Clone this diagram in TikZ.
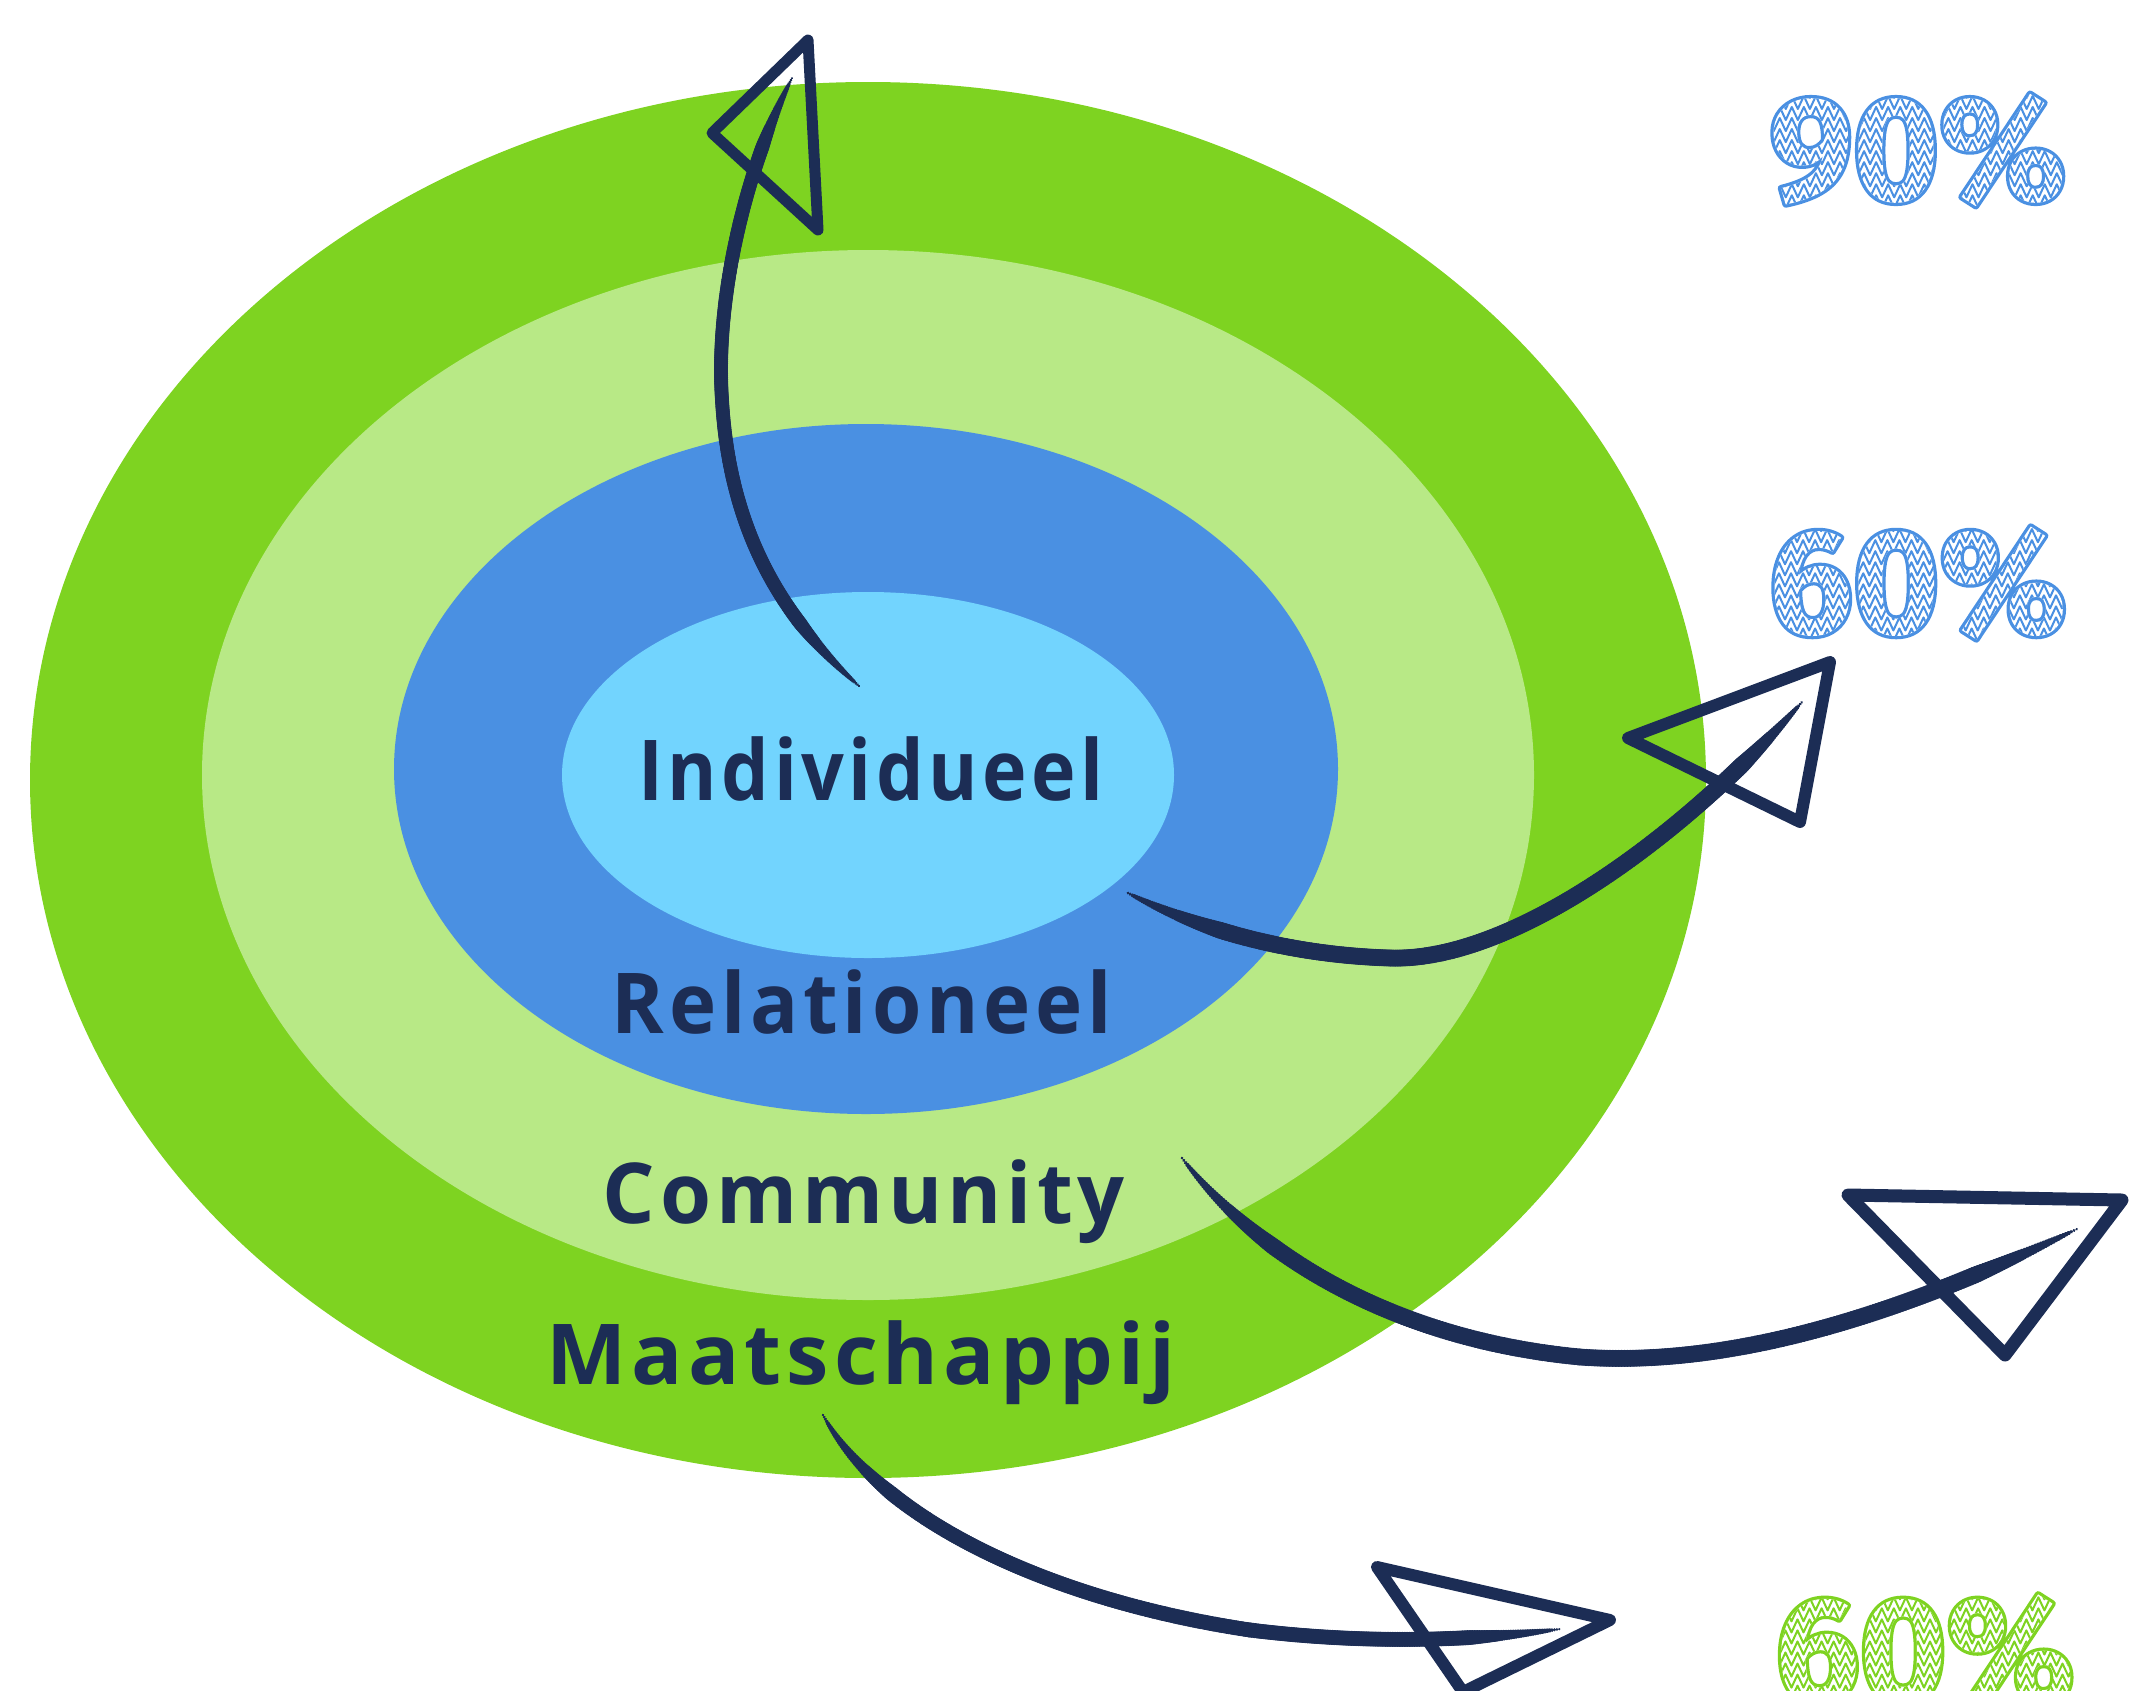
\documentclass[tikz,border=0pt]{standalone}
\usepackage{fontspec}
\usepackage{graphicx}
\usetikzlibrary{decorations.markings,calc}
\setmainfont{Open Sans}
\newfontfamily\lblfont[LetterSpace=6.0]{Open Sans}
\newfontfamily\pctfont{Fira Sans}
\definecolor{gOuter}{HTML}{7ED321}
\definecolor{gLight}{HTML}{B8E986}
\definecolor{bMid}{HTML}{4A90E2}
\definecolor{bLight}{HTML}{72D4FE}
\definecolor{navy}{HTML}{1C2D55}
\newcommand\lbltext[2]{\resizebox{#1}{\height}{\fontsize{84}{100}\selectfont\lblfont\bfseries #2}}
% zigzag scribble path (PDF operators, bp, relative to the text's left baseline)
\newcommand\mkhatch{%
  \gdef\hatchpath{}%
  \foreach \r in {0,...,11}{%
    \foreach \k in {0,...,54}{%
      \edef\hx{\the\numexpr -8+6*\k\relax}%
      \ifodd\k\relax \edef\hy{\the\numexpr -8+11*\r+13\relax}\else\edef\hy{\the\numexpr -8+11*\r\relax}\fi
      \ifnum\k=0 \xdef\hatchpath{\hatchpath\space\hx\space\hy\space m}\else\xdef\hatchpath{\hatchpath\space\hx\space\hy\space l}\fi
    }}}
\mkhatch
% sketched percentage: outline stroke + clip to glyphs, white inside, scribble hatch
\newcommand\sketchpct[3]{% #1 font size, #2 text, #3 RGB for the hatch
  \special{pdf:literal direct q 5 Tr 6.5 w 1 j}%
  \rlap{\fontsize{#1}{#1}\selectfont\pctfont\bfseries #2}%
  \special{pdf:literal q 1 g -20 -30 380 190 re f 2 w 1 j 1 J #3 RG\hatchpath\space S Q}%
  \special{pdf:literal direct Q}%
  \phantom{\fontsize{#1}{#1}\selectfont\pctfont\bfseries #2}}
\tikzset{
  lbl/.style={inner sep=0pt, anchor=base, text=navy},
  pct/.style={inner sep=0pt, anchor=center},
  tri/.style={draw=navy, line width=#1, line join=round, line cap=round},
  brush/.style={decorate, decoration={markings, mark=between positions 0 and 1 step 0.003 with {%
     \pgfmathsetmacro\tpos{\pgfkeysvalueof{/pgf/decoration/mark info/distance from start}/\pgfdecoratedpathlength}%
     \pgfmathsetmacro\rad{#1*min(1,(\tpos+0.01)/0.14)^0.8*min(1,(1.005-\tpos)/0.12)^0.8+0.5}%
     \fill[navy] (0,0) circle[radius=\rad pt];}}},
}
\begin{document}
\begin{tikzpicture}[x=1pt,y=-1pt]
\useasboundingbox (0,0) rectangle (2131,1690);
% rings
\fill[gOuter] (868,780) ellipse [x radius=838, y radius=698];
\fill[gLight] (868,775) ellipse [x radius=666, y radius=525];
\fill[bMid] (866,769) ellipse [x radius=472, y radius=345];
\fill[bLight] (868,775) ellipse [x radius=306, y radius=183];
% labels
\node[lbl] (ind) at (871,800) {\lbltext{465pt}{Individueel}};
\node[lbl] (rel) at (862,1033) {\lbltext{500pt}{Relationeel}};
\node[lbl] (com) at (864,1223) {\lbltext{522pt}{Community}};
\node[lbl] (maa) at (861,1384) {\lbltext{629pt}{Maatschappij}};
% percentages
\node[pct,text=bMid] (p90) at (1918,150) {\sketchpct{148}{90\%}{0.29 0.565 0.886}};
\node[pct,text=bMid] (p60a) at (1918,583) {\sketchpct{148.5}{60\%}{0.29 0.565 0.886}};
\node[pct,text=gOuter] (p60b) at (1925,1651) {\sketchpct{149}{60\%}{0.494 0.827 0.129}};
% arrow A (up)
\coordinate (a0) at (859,686);
\coordinate (a1) at (792,78);
\coordinate (ta1) at (808,40);
\coordinate (ta2) at (712,133);
\coordinate (ta3) at (818,230);
\draw[tri=11pt] (ta1) -- (ta2) -- (ta3) -- cycle;
\path[brush=6.5] (a0) .. controls (790,625) and (730,540) .. (722,400) .. controls (715,300) and (745,170) .. (a1);
% arrow B
\coordinate (b0) at (1128,893);
\coordinate (b1) at (1802,702);
\coordinate (tb1) at (1830,662);
\coordinate (tb2) at (1628,738);
\coordinate (tb3) at (1800,822);
\draw[tri=12pt] (tb1) -- (tb2) -- (tb3) -- cycle;
\path[brush=8] (b0) .. controls (1200,930) and (1290,955) .. (1390,958) .. controls (1510,962) and (1680,840) .. (b1);
% arrow C
\coordinate (c0) at (1182,1158);
\coordinate (c1) at (2077,1229);
\coordinate (tc1) at (1848,1195);
\coordinate (tc2) at (2122,1200);
\coordinate (tc3) at (2005,1355);
\draw[tri=13pt] (tc1) -- (tc2) -- (tc3) -- cycle;
\path[brush=8] (c0) .. controls (1260,1260) and (1400,1340) .. (1580,1357) .. controls (1760,1370) and (1950,1290) .. (c1);
% arrow D
\coordinate (d0) at (823,1415);
\coordinate (d1) at (1560,1629);
\coordinate (td1) at (1377,1567);
\coordinate (td2) at (1610,1620);
\coordinate (td3) at (1463,1692);
\draw[tri=12pt] (td1) -- (td2) -- (td3) -- cycle;
\path[brush=7] (d0) .. controls (880,1520) and (1050,1600) .. (1250,1630) .. controls (1370,1645) and (1480,1640) .. (d1);
\end{tikzpicture}
\end{document}
